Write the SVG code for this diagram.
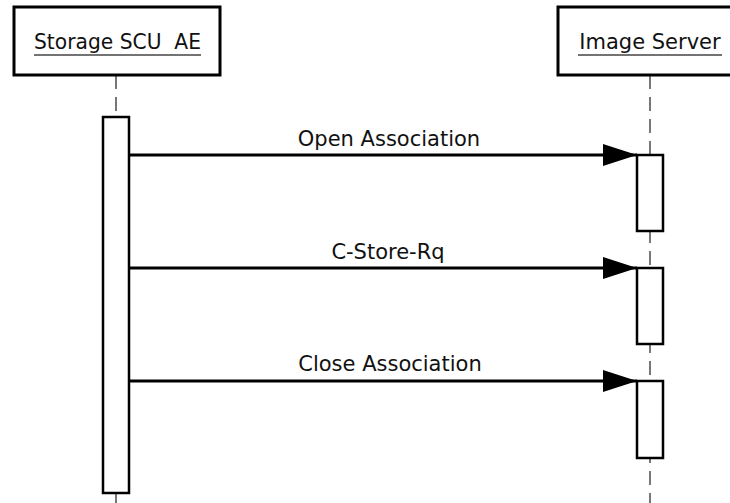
<svg xmlns="http://www.w3.org/2000/svg" width="730" height="503" viewBox="0 0 730 503">
<defs>
<style>
.box{fill:#fff;stroke:#000;stroke-width:3}
.act{fill:#fff;stroke:#000;stroke-width:2.5}
.life{stroke:#777;stroke-width:2;stroke-dasharray:14 8;fill:none}
.msg{stroke:#000;stroke-width:3;fill:none}
.lbl{font-family:"DejaVu Sans",Verdana,sans-serif;font-size:21px;fill:#111;white-space:pre}
.ul{stroke:#444;stroke-width:1.5}
</style>
<marker id="ah" markerUnits="userSpaceOnUse" markerWidth="36" markerHeight="24" refX="34" refY="11" orient="auto">
<path d="M0,0 L34,11 L0,22 Z" fill="#000"/>
</marker>
</defs>
<rect width="730" height="503" fill="#fff"/>
<g id="lifelines">
<line class="life" x1="116" y1="75" x2="116" y2="117"/>
<line class="life" x1="116" y1="493" x2="116" y2="503"/>
<line class="life" x1="650" y1="75" x2="650" y2="503"/>
</g>
<g id="storage-scu">
<rect class="box" x="14" y="7" width="206" height="68"/>
<text class="lbl" x="34" y="49" xml:space="preserve" textLength="167" lengthAdjust="spacingAndGlyphs">Storage SCU  AE</text>
<line class="ul" x1="34" y1="55" x2="201" y2="55"/>
<rect class="act" x="103" y="117" width="26" height="376"/>
</g>
<g id="image-server">
<rect class="box" x="558" y="7" width="190" height="68"/>
<text class="lbl" x="650" y="49" text-anchor="middle">Image Server</text>
<line class="ul" x1="578" y1="55" x2="722" y2="55"/>
<rect class="act" x="637" y="155" width="26" height="76"/>
<rect class="act" x="637" y="268" width="26" height="76"/>
<rect class="act" x="637" y="381" width="26" height="77"/>
</g>
<g id="connectors">
<line class="msg" x1="129" y1="155" x2="637" y2="155" marker-end="url(#ah)"/>
<text class="lbl" x="389" y="146" text-anchor="middle">Open Association</text>
<line class="msg" x1="129" y1="268" x2="637" y2="268" marker-end="url(#ah)"/>
<text class="lbl" x="388" y="259" text-anchor="middle">C-Store-Rq</text>
<line class="msg" x1="129" y1="381" x2="637" y2="381" marker-end="url(#ah)"/>
<text class="lbl" x="390" y="371" text-anchor="middle">Close Association</text>
</g>
</svg>
